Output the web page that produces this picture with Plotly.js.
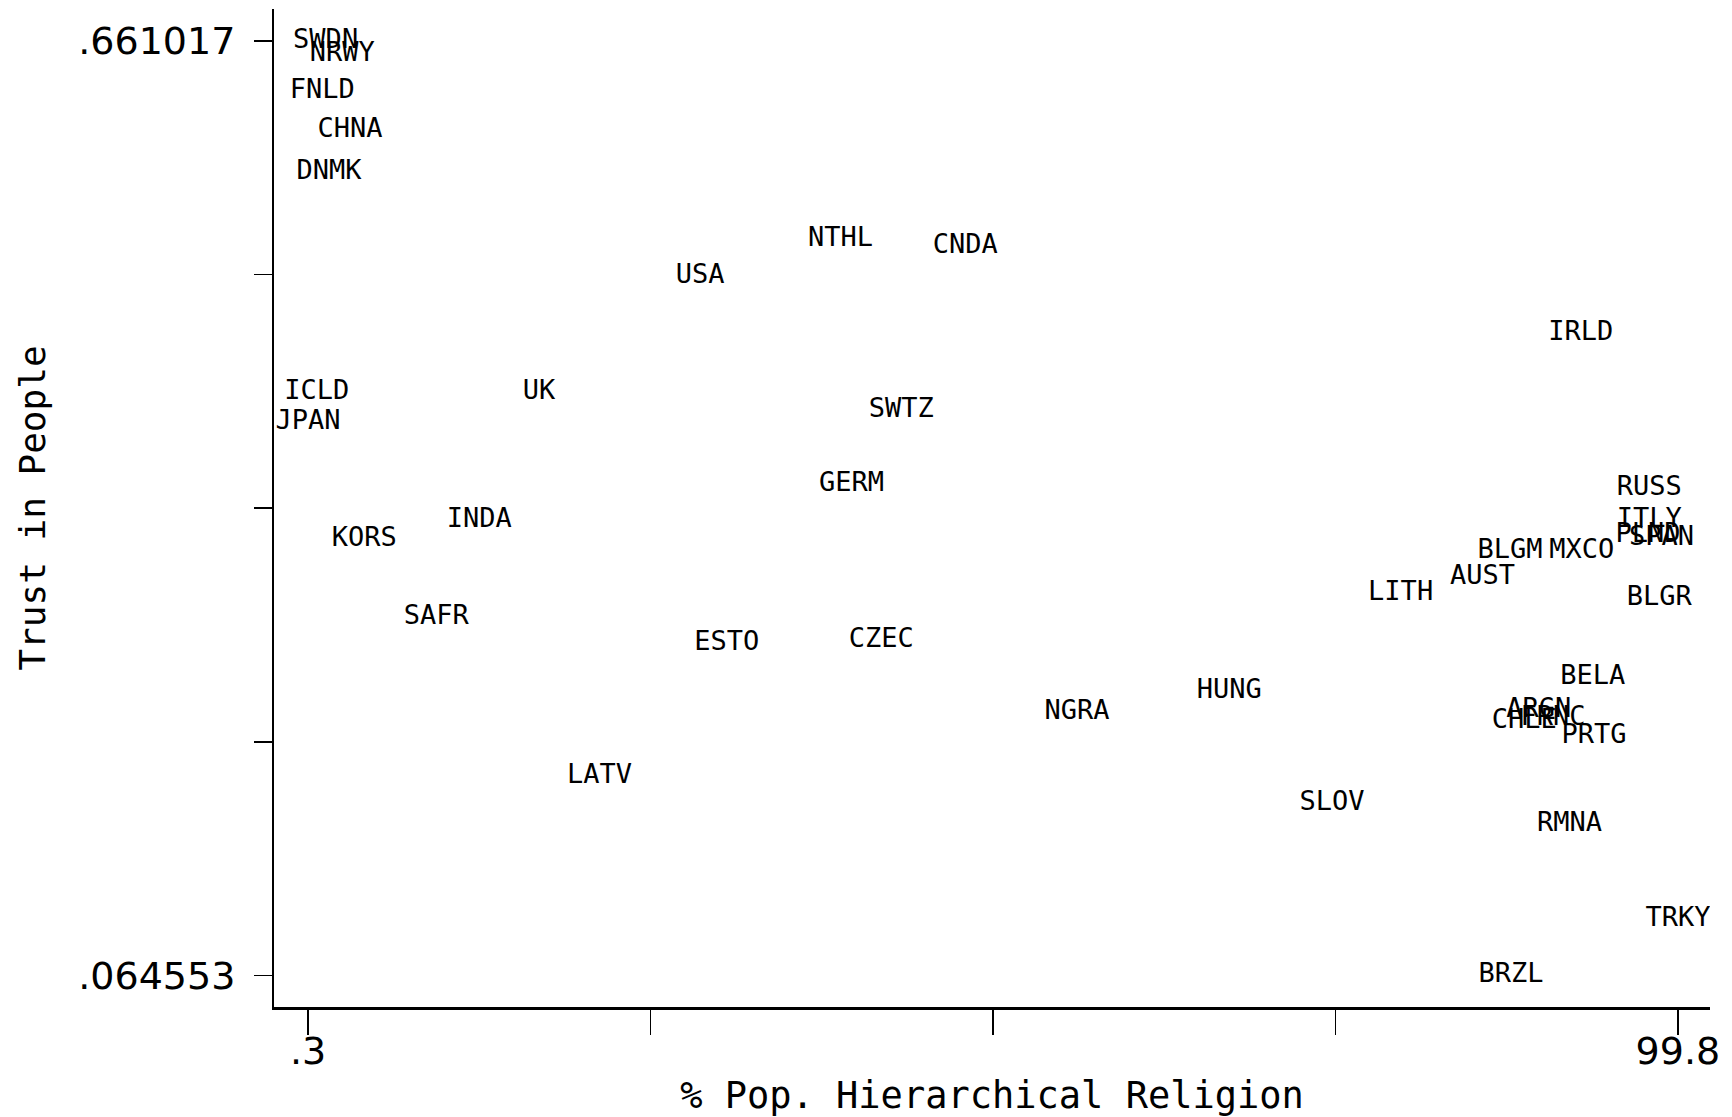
<!DOCTYPE html>
<html>
<head>
<meta charset="utf-8">
<script src="https://cdn.plot.ly/plotly-3.0.1.min.js"></script>
<style>
  html, body { margin: 0; padding: 0; background: #ffffff; }
  #chart { width: 1732px; height: 1117px; }
</style>
</head>
<body>
<div id="chart"></div>
<script>
// Country codes (as printed in the chart)
const countries = [
  "SWDN","NRWY","FNLD","CHNA","DNMK","NTHL","CNDA","USA","IRLD","ICLD",
  "UK","JPAN","SWTZ","GERM","RUSS","INDA","ITLY","PLND","SPAN","KORS",
  "BLGM","MXCO","AUST","LITH","BLGR","SAFR","ESTO","CZEC","BELA","HUNG",
  "ARGN","CHLE","FRNC","PRTG","NGRA","LATV","SLOV","RMNA","TRKY","BRZL"
];
// % Pop. Hierarchical Religion
const hierReligion = [
  1.58, 2.79, 1.34, 3.35, 1.82, 38.98, 48.04, 28.79, 92.74, 0.94,
  17.07, 0.3, 43.39, 39.78, 97.71, 12.74, 97.71, 97.63, 98.6, 4.39,
  87.6, 92.82, 85.6, 79.66, 98.44, 9.61, 30.71, 41.94, 93.62, 67.22,
  89.69, 88.64, 90.73, 93.7, 56.15, 21.48, 74.68, 91.93, 99.8, 87.68
];
// Trust in People
const trust = [
  0.661017, 0.6526, 0.6286, 0.6039, 0.5771, 0.5341, 0.5299, 0.5108, 0.4742, 0.4368,
  0.4368, 0.4178, 0.4255, 0.3783, 0.3755, 0.3550, 0.3550, 0.3452, 0.3438, 0.3431,
  0.3353, 0.3353, 0.3184, 0.3085, 0.3050, 0.2930, 0.2768, 0.2782, 0.2549, 0.2457,
  0.2337, 0.2267, 0.2288, 0.2175, 0.2323, 0.1915, 0.1745, 0.1611, 0.1005, 0.064553
];
// Axis ticks (five evenly spaced ticks, only the ends labelled)
const xTickVals = [0.3, 25.175, 50.05, 74.925, 99.8];
const xTickText = [".3", "", "", "", "99.8"];
const yTickVals = [0.064553, 0.213669, 0.362785, 0.511901, 0.661017];
const yTickText = [".064553", "", "", "", ".661017"];

const xTitle = "% Pop. Hierarchical Religion";
const yTitle = "Trust in People";

const trace = {
  type: "scatter",
  mode: "text",
  x: hierReligion,
  y: trust,
  text: countries,
  textposition: "middle center",
  textfont: { family: "DejaVu Sans Mono, monospace", size: 27, color: "#000000" },
  hoverinfo: "text",
  cliponaxis: true,
  showlegend: false
};

const layout = {
  width: 1732,
  height: 1117,
  paper_bgcolor: "#ffffff",
  plot_bgcolor: "#ffffff",
  margin: { l: 274, r: 22, t: 9, b: 110, pad: 0 },
  showlegend: false,
  font: { family: "DejaVu Sans, sans-serif", color: "#000000" },
  xaxis: {
    range: [-2.17, 102.13],
    tickmode: "array",
    tickvals: xTickVals,
    ticktext: xTickText,
    ticks: "outside",
    ticklen: 25,
    tickwidth: 1.5,
    tickcolor: "#000000",
    ticklabelstandoff: -16,
    showline: true,
    linecolor: "#000000",
    linewidth: 2.5,
    showgrid: false,
    zeroline: false,
    mirror: false,
    tickfont: { family: "DejaVu Sans, sans-serif", size: 38, color: "#000000" },
    title: {
      text: xTitle,
      font: { family: "DejaVu Sans Mono, monospace", size: 37, color: "#000000" },
      standoff: 22
    },
    automargin: false
  },
  yaxis: {
    range: [0.04438, 0.68136],
    tickmode: "array",
    tickvals: yTickVals,
    ticktext: yTickText,
    ticks: "outside",
    ticklen: 18,
    tickwidth: 1.5,
    tickcolor: "#000000",
    ticklabelstandoff: 11,
    showline: true,
    linecolor: "#000000",
    linewidth: 2,
    showgrid: false,
    zeroline: false,
    mirror: false,
    tickfont: { family: "DejaVu Sans, sans-serif", size: 38, color: "#000000" },
    title: {
      text: yTitle,
      font: { family: "DejaVu Sans Mono, monospace", size: 36, color: "#000000" },
      standoff: 22
    },
    automargin: false
  }
};

Plotly.newPlot("chart", [trace], layout, { displayModeBar: false, staticPlot: true });
</script>
</body>
</html>
